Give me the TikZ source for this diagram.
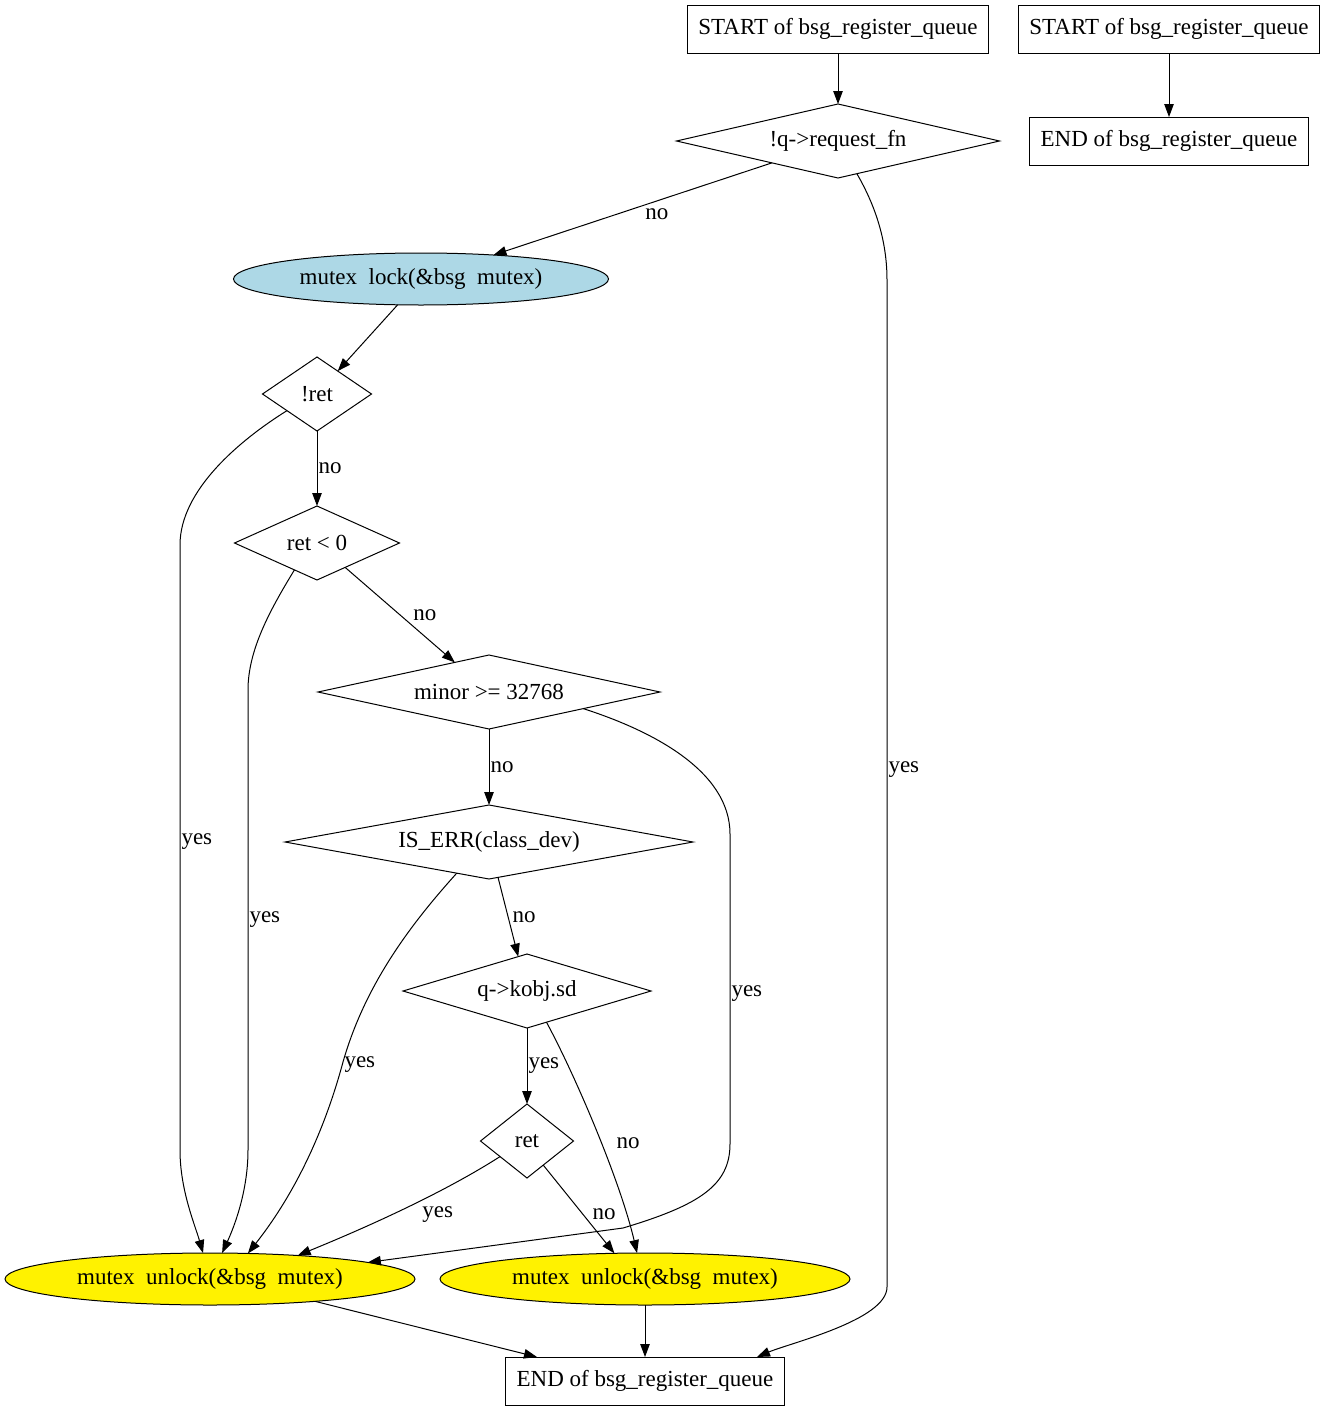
\documentclass[tikz,border=0pt]{standalone}
\usepackage{fontspec}
\setmainfont{Liberation Serif}
\usetikzlibrary{arrows.meta,positioning,shapes.geometric}
\newcommand{\usp}{\hspace{0.5em}}

\begin{document}
\begin{tikzpicture}[->,>={Triangle[length=13pt,width=9.5pt]},line width=1pt,
                    x=1pt,y=-1pt,on grid,
                    every node/.style={font=\fontsize{23pt}{27pt}\selectfont},
                    box/.style={draw,rectangle,minimum height=48pt,inner xsep=11pt,outer sep=0pt},
                    test/.style={draw,diamond,aspect=4,inner sep=0pt,outer sep=0pt,minimum height=74pt},
                    call/.style={draw,ellipse,inner sep=0pt,outer sep=0pt,minimum height=52pt},
                    lbl/.style={inner sep=1pt}]
  \useasboundingbox (0,0) rectangle (1328,1411);

  \node[box]                           (start1) at (838,29)                  {START of bsg\_register\_queue};
  \node[test,minimum width=323pt]      (q1)     [below=112pt of start1]      {!q->request\_fn};
  \node[box]                           (start2) [right=331pt of start1]      {START of bsg\_register\_queue};
  \node[box]                           (end2)   [below=112pt of start2]      {END of bsg\_register\_queue};
  \node[call,minimum width=375pt,fill={rgb,255:red,173;green,216;blue,230}]
                                       (lock)   [below left=138pt and 417pt of q1] {mutex\usp lock(\&bsg\usp mutex)};
  \node[test,minimum width=109pt]      (ret1)   [below left=115pt and 104pt of lock] {!ret};
  \node[test,minimum width=165pt]      (ret2)   [below=149pt of ret1]        {ret < 0};
  \node[test,minimum width=342pt]      (minor)  [below right=149pt and 172pt of ret2] {minor >= 32768};
  \node[test,minimum width=408pt]      (iserr)  [below=150pt of minor]       {IS\_ERR(class\_dev)};
  \node[test,minimum width=248pt]      (kobj)   [below right=149pt and 38pt of iserr] {q->kobj.sd};
  \node[test,minimum width=93pt]       (ret3)   [below=150pt of kobj]        {ret};
  \node[call,minimum width=410pt,fill=yellow]
                                       (unlock1) [below left=138pt and 317pt of ret3] {mutex\usp unlock(\&bsg\usp mutex)};
  \node[call,minimum width=410pt,fill=yellow]
                                       (unlock2) [right=435pt of unlock1]    {mutex\usp unlock(\&bsg\usp mutex)};
  \node[box]                           (end1)   [below=102pt of unlock2]     {END of bsg\_register\_queue};

  \path (start1) edge                                          (q1)
        (start2) edge                                          (end2)
        (q1)     edge node[lbl,pos=0.46,anchor=north west,yshift=-2pt] {no} (lock)
        (lock)   edge                                          (ret1)
        (ret1)   edge node[lbl,right] {no}                     (ret2)
        (ret2)   edge node[lbl,right=12pt] {no}                (minor)
        (minor)  edge node[lbl,right] {no}                     (iserr)
        (iserr)  edge node[lbl,right=3pt] {no}                 (kobj)
        (kobj)   edge node[lbl,right] {yes}                    (ret3)
        (ret3.-56.3) edge node[lbl,pos=0.56,right=8pt] {no}    (unlock2.140.3)
        (unlock1.-12.8) edge                                   ([xshift=-108pt]end1.north)
        (unlock2) edge                                         (end1);

  % the long branches round the side
  \draw (q1.-60) .. controls (875,205) and (887,240) .. (887,280)
        -- node[lbl,pos=0.486,right] {yes} (887,1287)
        .. controls (887,1320) and (790,1343) .. ([xshift=112pt]end1.north);
  \draw (ret1.209.5) .. controls (240,440) and (180,490) .. (180,545)
        -- node[lbl,pos=0.49,right] {yes} (180,1150)
        .. controls (180,1190) and (195,1225) .. (unlock1.105);
  \draw (ret2.230.8) .. controls (270,610) and (248,650) .. (248,690)
        -- node[lbl,right] {yes} (248,1150)
        .. controls (248,1190) and (235,1225) .. (unlock1.65);
  \draw (minor.-10.6) .. controls (650,730) and (730,770) .. (730,834)
        -- node[lbl,pos=0.515,right] {yes} (730,1144)
        .. controls (730,1185) and (700,1205) .. (623,1228) -- (unlock1.6.5);
  \draw (iserr.224) .. controls (410,925) and (365,985) .. (343,1062) node[lbl,right,yshift=-3pt] {yes}
        .. controls (322,1140) and (290,1200) .. (unlock1.34.6);
  \draw (kobj.-58.5) .. controls (575,1075) and (620,1180) .. (unlock2.107)
        node[lbl,pos=0.55,right=14pt] {no};
  \draw (ret3.210.7) .. controls (440,1195) and (360,1230) .. (unlock1.15)
        node[lbl,pos=0.4,anchor=north west,yshift=-4pt] {yes};
\end{tikzpicture}
\end{document}
